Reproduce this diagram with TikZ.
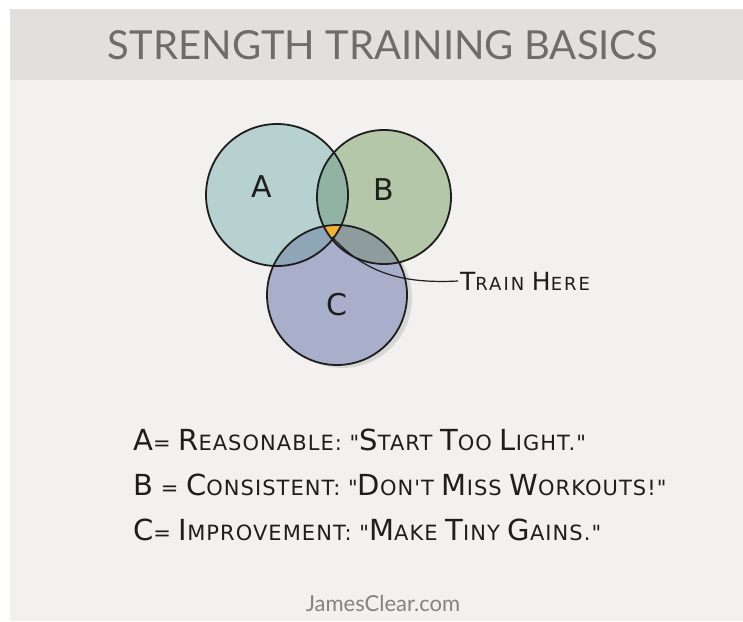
\documentclass[tikz,border=0pt]{standalone}
\usepackage{fontspec}
\newfontfamily\headfont{Lato}
\newfontfamily\hand[LetterSpace=5]{DejaVu Sans}
\newfontfamily\handwide[LetterSpace=11]{DejaVu Sans}

\definecolor{bandgray}{HTML}{E1E0DF}
\definecolor{panelgray}{HTML}{F2F1EF}
\definecolor{headgray}{HTML}{6E6D6B}
\definecolor{ink}{HTML}{1E1E1E}
\definecolor{setA}{HTML}{B6D1D0}
\definecolor{setB}{HTML}{B5C7A9}
\definecolor{setC}{HTML}{A9AFCB}
\definecolor{setAB}{HTML}{90B3A3}
\definecolor{setAC}{HTML}{8FA5B8}
\definecolor{setBC}{HTML}{8E9C9E}
\definecolor{spot}{HTML}{F0B232}

% first letter of a word set taller than the rest
\newcommand\hw[2]{{\fontsize{29}{29}\selectfont #1}#2}
\newcommand\hwsmall[2]{{\fontsize{25}{25}\selectfont #1}#2}

\begin{document}
\begin{tikzpicture}[x=1pt,y=-1pt,
    ring/.style={draw=ink,line width=1.8pt},
    setlabel/.style={font=\hand\fontsize{30}{30}\selectfont,text=ink},
    legend/.style={anchor=base west,font=\hand\fontsize{21}{21}\selectfont,text=ink,inner sep=0pt},
    callout/.style={draw=ink,line width=1.2pt}]
    \useasboundingbox (0,0) rectangle (743,621);
    %% backdrop
    \fill[white] (0,0) rectangle (743,621);
    \fill[panelgray] (10,80) rectangle (743,621);
    \fill[bandgray] (10,9) rectangle (743,80);
    \node[font=\headfont\fontsize{40}{40}\selectfont,text=headgray] (title) at (383,45) {STRENGTH TRAINING BASICS};
    %% the three sets
    \fill[gray!45,opacity=0.6] (342,298) circle (70);
    \fill[setA] (277,195) circle (71);
    \fill[setB] (384,197) circle (67);
    \fill[setC] (337,295) circle (70);
    \begin{scope}
        \clip (277,195) circle (71);
        \fill[setAB] (384,197) circle (67);
        \fill[setAC] (337,295) circle (70);
    \end{scope}
    \begin{scope}
        \clip (384,197) circle (67);
        \fill[setBC] (337,295) circle (70);
        \clip (277,195) circle (71);
        \fill[spot] (337,295) circle (70);
    \end{scope}
    \draw[ring] (277,195) circle (71);
    \draw[ring] (384,197) circle (67);
    \draw[ring] (337,295) circle (70);
    \node[setlabel] (labA) at (262,187) {A};
    \node[setlabel] (labB) at (384,190) {B};
    \node[setlabel] (labC) at (337,305) {C};
    %% callout
    \coordinate (center) at (333,238);
    \node[anchor=west,font=\handwide\fontsize{18}{18}\selectfont,text=ink,inner sep=2pt] (train) at (458,281) {\hwsmall{T}{RAIN} \hwsmall{H}{ERE}};
    \draw[callout] (center) .. controls (365,272) and (400,284) .. (train.west);
    \fill[ink] (center) circle (1.6);
    %% legend
    \node[legend] (lineA) at (133,450) {\hw{A}{}= \hw{R}{EASONABLE}: "\hw{S}{TART} \hw{T}{OO} \hw{L}{IGHT}."};
    \node[legend] (lineB) at (133,495) {\hw{B}{} = \hw{C}{ONSISTENT}: "\hw{D}{ON'T} \hw{M}{ISS} \hw{W}{ORKOUTS}!"};
    \node[legend] (lineC) at (133,540) {\hw{C}{}= \hw{I}{MPROVEMENT}: "\hw{M}{AKE} \hw{T}{INY} \hw{G}{AINS}."};
    %% footer
    \node[font=\headfont\fontsize{22}{22}\selectfont,text=headgray!85] (site) at (383,603) {JamesClear.com};
\end{tikzpicture}
\end{document}
